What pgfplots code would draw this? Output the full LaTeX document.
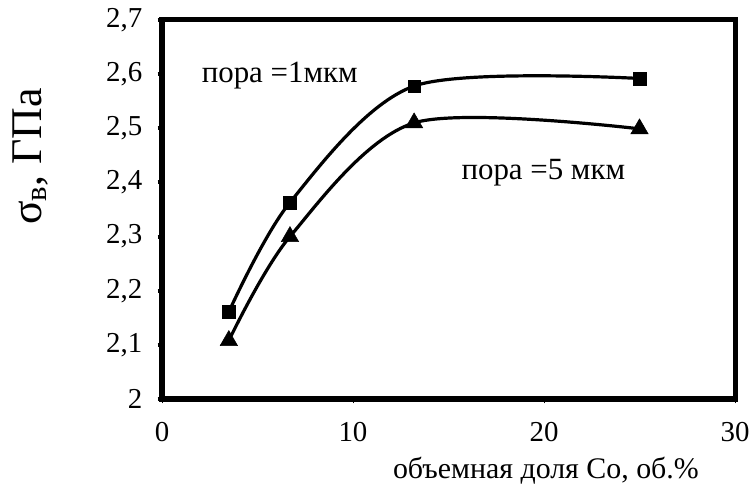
\documentclass[border=0pt]{standalone}
\usepackage{fontspec}
\setmainfont{Liberation Serif}
\usepackage{pgfplots}
\pgfplotsset{compat=1.18}

% sigma_B vs Co content, two pore sizes
\pgfplotstableread{
x     y
3.5   2.161
6.7   2.363
13.2  2.578
25    2.592
}\poreone
\pgfplotstableread{
x     y
3.5   2.108
6.7   2.300
13.2  2.510
25    2.499
}\porefive

\begin{document}
\begin{tikzpicture}
\begin{axis}[
    scale only axis,
    width=573bp, height=379bp,
    xmin=0, xmax=30, ymin=2, ymax=2.7,
    xtick={0,10,20,30},
    ytick={2,2.1,2.2,2.3,2.4,2.5,2.6,2.7},
    tick pos=left,
    tick align=outside,
    axis line style={draw=none},
    every x tick/.style={line width=0.8bp, black},
    every y tick/.style={line width=4bp, black},
    xtick/.append style={major tick length=12bp},
    ytick/.append style={major tick length=10bp},
    yticklabel style={xshift=-12bp},
    xticklabel style={yshift=-16bp},
    ticklabel style={font=\fontsize{29}{32}\selectfont},
    /pgf/number format/assume math mode=true,
    /pgf/number format/use comma,
    /pgf/number format/fixed,
    scaled y ticks=false,
    clip=false,
]
\addplot[black, line width=3.2bp, smooth, mark=square*, mark size=6.3bp,
    mark options={solid, line width=0.5bp}] table[x=x, y=y] {\poreone};
\addplot[black, line width=3.2bp, smooth, mark=triangle*, mark size=10bp,
    mark options={solid, line width=0.5bp}] table[x=x, y=y] {\porefive};

\node[anchor=west, font=\fontsize{31}{34}\selectfont] at (axis cs:1.9,2.598) {пора =1мкм};
\node[anchor=west, font=\fontsize{31}{34}\selectfont] at (axis cs:15.5,2.418) {пора =5 мкм};
\node[font=\fontsize{30}{34}\selectfont] at (rel axis cs:0.67,-0.19) {объемная доля Co, об.\%};
\node[rotate=90, font=\fontsize{44}{48}\selectfont] at (rel axis cs:-0.23,0.64) {σ\textsubscript{в}, ГПа};
\end{axis}
\draw[line width=5bp, line cap=rect] (0,0) rectangle (573bp,379bp);
\pgfresetboundingbox
\path[use as bounding box] (-162bp,-96bp) rectangle (589bp,399bp);
\end{tikzpicture}
\end{document}
